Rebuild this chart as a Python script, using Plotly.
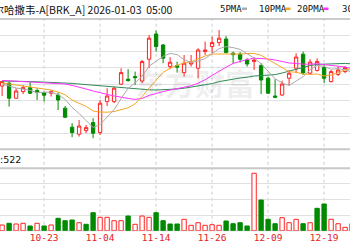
import plotly.graph_objects as go

dates = ["10-15","10-16","10-17","10-20","10-21","10-22","10-23","10-24","10-27","10-28","10-29","10-30","10-31",
         "11-03","11-04","11-05","11-06","11-07","11-10","11-11","11-12","11-13","11-14","11-17","11-18","11-19",
         "11-20","11-21","11-24","11-25","11-26","11-28",
         "12-01","12-02","12-03","12-04","12-05","12-08","12-09","12-10","12-11","12-12","12-15","12-16","12-17",
         "12-18","12-19","12-22","12-23","12-24","12-26"]

opens = [757.0, 758.4, 750.9, 754.2, 756.2, 754.7, 753.7, 753.4, 752.5, 745.9, 736.4, 732.9, 734.7, 738.7, 733.7,
         749.2, 749.2, 757.9, 760.4, 761.7, 759.5, 770.4, 783.0, 777.5, 766.7, 767.2, 763.7, 768.0, 765.9, 774.2,
         776.7, 778.7, 780.5, 773.4, 772.9, 770.0, 769.2, 767.2, 760.9, 752.0, 752.5, 760.9, 765.9, 772.9, 763.4,
         764.8, 766.2, 759.2, 762.8, 764.2, 764.5]
highs = [759.5, 759.2, 755.9, 757.5, 758.9, 755.9, 754.2, 755.0, 753.7, 747.0, 738.4, 740.0, 737.5, 740.9, 750.0,
         755.9, 756.7, 765.9, 765.4, 764.2, 770.0, 782.5, 784.7, 778.0, 771.4, 769.2, 772.5, 772.5, 775.9, 779.2,
         781.7, 785.0, 782.0, 774.2, 774.0, 770.9, 771.4, 768.4, 761.7, 760.4, 759.7, 765.0, 773.4, 774.2, 770.4,
         770.9, 767.5, 765.0, 766.7, 767.0, 765.0]
lows = [752.0, 746.7, 750.5, 753.0, 753.0, 750.0, 749.2, 751.7, 745.0, 740.9, 731.4, 731.7, 733.4, 730.9, 732.5,
        747.0, 748.4, 757.5, 759.2, 757.5, 758.4, 765.9, 774.2, 768.4, 765.4, 763.7, 761.7, 766.7, 760.9, 772.5,
        773.4, 777.0, 773.4, 768.4, 768.7, 766.7, 765.0, 753.0, 753.0, 750.9, 752.0, 757.5, 763.4, 762.5, 762.5,
        764.2, 758.4, 758.7, 762.0, 763.4, 762.5]
closes = [759.2, 750.9, 754.5, 756.2, 753.4, 753.7, 752.4, 754.2, 750.0, 741.4, 733.7, 737.0, 736.2, 733.4, 748.4,
          752.0, 755.9, 763.7, 759.7, 761.2, 769.2, 780.9, 776.7, 770.9, 768.9, 766.4, 768.4, 768.9, 775.0, 775.0,
          778.7, 780.9, 773.7, 772.7, 770.4, 768.0, 770.0, 760.0, 753.4, 751.4, 758.0, 763.4, 771.5, 763.5, 769.0,
          769.3, 760.9, 764.2, 765.0, 766.2, 763.3]

ma5 = [758.0, 757.0, 756.0, 755.5, 754.8, 753.7, 754.0, 754.0, 752.7, 750.3, 746.3, 743.3, 739.7, 736.3, 737.7,
       741.4, 745.2, 750.7, 755.9, 758.5, 761.9, 766.9, 769.5, 771.8, 773.3, 772.7, 770.2, 768.7, 769.5, 770.7,
       773.2, 775.7, 776.7, 776.2, 775.3, 773.1, 771.0, 768.2, 764.4, 760.6, 758.6, 757.2, 759.5, 761.6, 765.1,
       767.3, 766.8, 765.4, 765.7, 765.1, 763.9]
ma10 = [758.5, 758.0, 757.5, 757.0, 756.5, 756.0, 755.5, 755.0, 754.0, 752.6, 750.0, 748.6, 746.8, 744.5, 744.0,
        743.9, 744.2, 745.2, 746.1, 748.1, 751.7, 756.0, 760.1, 763.8, 765.9, 767.3, 768.6, 769.1, 770.6, 772.0,
        773.0, 773.0, 772.7, 772.8, 773.0, 773.2, 773.3, 772.4, 770.3, 767.9, 765.8, 764.1, 763.9, 763.0, 762.8,
        763.0, 762.0, 762.5, 763.6, 765.1, 765.6]
ma20 = [759.8, 759.6, 759.5, 759.4, 759.2, 759.0, 758.9, 758.7, 758.5, 758.0, 757.3, 756.5, 755.5, 754.5, 753.5,
        752.8, 752.0, 751.3, 750.8, 750.3, 750.8, 752.3, 753.4, 754.2, 755.0, 755.6, 756.4, 757.1, 758.4, 760.1,
        762.3, 764.5, 766.4, 768.3, 769.4, 770.2, 770.9, 770.8, 770.5, 770.0, 769.4, 768.5, 768.3, 767.9, 767.9,
        768.1, 767.7, 767.4, 766.9, 766.5, 765.7]
ma30 = [759.5, 759.5, 759.4, 759.3, 759.2, 759.1, 759.0, 758.9, 758.7, 758.5, 758.3, 758.0, 757.7, 757.3, 757.0,
        756.6, 756.3, 756.0, 755.7, 755.4, 755.2, 755.1, 755.0, 755.1, 755.2, 755.5, 755.9, 756.4, 757.0, 757.6,
        758.2, 759.2, 759.9, 760.4, 761.0, 761.4, 762.0, 762.2, 762.3, 762.7, 763.5, 764.4, 765.5, 766.5, 767.2,
        767.8, 768.0, 768.0, 768.2, 768.3, 768.1]

volumes = [183, 237, 215, 237, 151, 237, 151, 183, 397, 321, 343, 256, 205, 577, 429, 429, 321, 321, 471, 205,
           471, 429, 577, 321, 215, 215, 365, 173, 256, 173, 192, 173, 311, 224, 256, 151, 1840, 984, 365, 224,
           417, 256, 365, 224, 256, 718, 856, 365, 224, 109, 224]
vol_up = [1, 0, 1, 1, 0, 1, 0, 1, 0, 0, 0, 1, 0, 0, 1, 1, 1, 1, 0, 1, 1, 1, 0, 0, 0, 0, 1, 1, 1, 1, 1, 1, 0, 0,
          0, 0, 1, 0, 0, 0, 1, 1, 1, 0, 1, 0, 0, 1, 1, 1, 0]

tick_labels = ["10-13", "10-23", "11-04", "11-14", "11-26", "12-09", "12-19"]
ma_names = ["5PMA", "10PMA", "20PMA", "30PMA"]
title_text = "伯克希尔哈撒韦-A[BRK_A] 2026-01-03\u00a0\u00a005:00"
vol_label = "量:522"

RED = "#ff2222"
GREEN = "#008a00"
W, H = 350, 250

def py(pix):
    return 1 - pix / H

x = list(range(len(dates)))
tick_pos = [dates.index(t) if t in dates else dates.index("10-15") - 2 for t in tick_labels]

fig = go.Figure()

ma_colors = ["#aaaaaa", "#f5a623", "#ff33ff", "#2e8b57"]
for vals, col, nm in zip([ma30, ma20, ma10, ma5], ma_colors[::-1], ma_names[::-1]):
    fig.add_trace(go.Scatter(x=x, y=vals, mode="lines", line=dict(color=col, width=1),
                             name=nm, xaxis="x", yaxis="y", hoverinfo="skip"))

fig.add_trace(go.Candlestick(
    x=x, open=opens, high=highs, low=lows, close=closes, xaxis="x", yaxis="y",
    increasing=dict(line=dict(color=RED, width=1), fillcolor="white"),
    decreasing=dict(line=dict(color=GREEN, width=1), fillcolor=GREEN),
    whiskerwidth=0, name="K"))

fig.add_trace(go.Bar(
    x=x, y=volumes, xaxis="x2", yaxis="y2", width=0.62,
    marker=dict(color=["white" if u else GREEN for u in vol_up],
                line=dict(color=[RED if u else GREEN for u in vol_up], width=1)),
    name="VOL"))

xr = [-0.3, 49.7]
price_dom = [py(149.3), py(19)]
vol_dom = [py(230.7), py(168.3)]
prange = [725.35, 790.5]
pstep = (prange[1] - prange[0]) / 8
vrange = [0, 2000]

fig.update_layout(
    width=W, height=H, margin=dict(l=0, r=0, t=0, b=0),
    paper_bgcolor="white", plot_bgcolor="white", showlegend=False,
    boxgap=0.32,
    xaxis=dict(domain=[0, 1], range=xr, showgrid=False, showticklabels=False, zeroline=False,
               rangeslider=dict(visible=False), anchor="y"),
    yaxis=dict(domain=price_dom, range=prange, showticklabels=False, zeroline=False,
               tickvals=[prange[0] + pstep * i for i in range(1, 8)],
               gridcolor="#e0e0e0", gridwidth=1, anchor="x"),
    xaxis2=dict(domain=[0, 1], range=xr, showgrid=False, zeroline=False, anchor="y2",
                tickvals=tick_pos, ticktext=tick_labels, ticks="",
                tickfont=dict(family="DejaVu Sans Mono", size=9.5, color="#e8201c")),
    yaxis2=dict(domain=vol_dom, range=vrange, showticklabels=False, zeroline=False,
                tickvals=[500, 1000, 1500], gridcolor="#e0e0e0", gridwidth=1, anchor="x2"),
)

shapes = []
for tp in tick_pos:
    shapes.append(dict(type="line", xref="x", yref="paper", x0=tp, x1=tp,
                       y0=py(230.7), y1=py(19), line=dict(color="#cccccc", width=1, dash="3px,3px"),
                       layer="below"))
for pix, col, wd in [(19, "#999999", 1), (149.3, "#c8c8c8", 2), (168.3, "#c8c8c8", 2), (230.7, "#c8c8c8", 1)]:
    shapes.append(dict(type="line", xref="paper", yref="paper", x0=0, x1=1, y0=py(pix), y1=py(pix),
                       line=dict(color=col, width=wd), layer="below"))
# legend swatches
for xs, col in [(242, ma_colors[0]), (285.5, ma_colors[1]), (323.5, ma_colors[2])]:
    shapes.append(dict(type="rect", xref="paper", yref="paper", x0=xs / W, x1=(xs + 5) / W,
                       y0=py(10), y1=py(7.5), line=dict(width=0), fillcolor=col))
fig.update_layout(shapes=shapes)

ann = [
    dict(text=title_text, x=-40 / W, y=py(9), xref="paper", yref="paper", xanchor="left", yanchor="middle",
         showarrow=False, font=dict(family="Noto Sans CJK SC", size=10.5, color="#111111")),
    dict(text="<b>东方财富</b>", x=195 / W, y=py(82), xref="paper", yref="paper", xanchor="center", yanchor="middle",
         showarrow=False, font=dict(family="Noto Sans CJK SC", size=30, color="rgba(120,120,120,0.12)")),
    dict(text=vol_label, x=-12 / W, y=py(159), xref="paper", yref="paper", xanchor="left", yanchor="middle",
         showarrow=False, font=dict(family="DejaVu Sans", size=9.5, color="#111111")),
]
for nm, xs in zip(ma_names, [218, 257, 295, 340]):
    ann.append(dict(text=nm, x=xs / W, y=py(9), xref="paper", yref="paper", xanchor="left", yanchor="middle",
                    showarrow=False, font=dict(family="DejaVu Sans Mono", size=9, color="#111111")))
fig.update_layout(annotations=ann)

fig.write_html("out.html")
